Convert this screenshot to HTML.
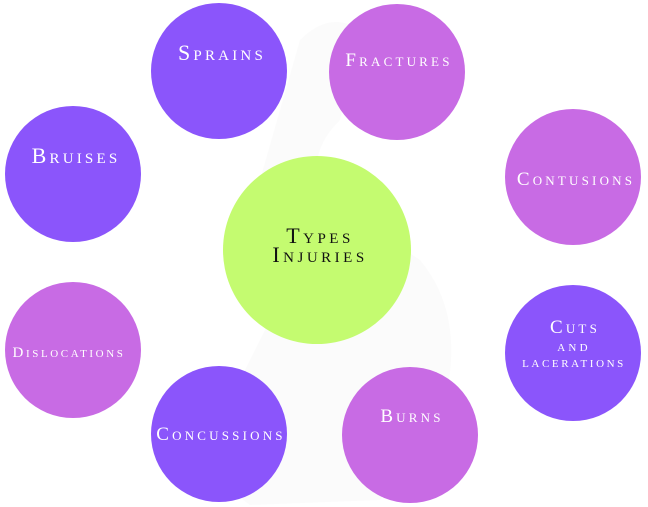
<!DOCTYPE html>
<html><head><style>
html,body{margin:0;padding:0;background:#fff;}
svg{display:block}
text{font-family:"Liberation Serif",serif;font-variant:small-caps;text-anchor:middle;fill:#fff;letter-spacing:3.2px;}
</style></head><body>
<svg width="648" height="507" viewBox="0 0 648 507">
<rect width="648" height="507" fill="#fff"/>
<path d="M300 40 Q330 10 360 30 L340 120 Q300 160 330 200 L420 260 Q470 320 440 420 L380 500 L250 505 Q200 470 230 400 L280 300 Q240 250 260 180 Z" fill="#fbfbfb"/>
<circle cx="219" cy="71" r="68" fill="#8b55fb"/>
<circle cx="397" cy="72" r="68" fill="#c86be4"/>
<circle cx="73" cy="174" r="68" fill="#8b55fb"/>
<circle cx="573" cy="177" r="68" fill="#c86be4"/>
<circle cx="317" cy="250" r="94" fill="#c4fb70"/>
<circle cx="73" cy="350" r="68" fill="#c86be4"/>
<circle cx="573" cy="353" r="68" fill="#8b55fb"/>
<circle cx="219" cy="434" r="68" fill="#8b55fb"/>
<circle cx="410" cy="435" r="68" fill="#c86be4"/>
<text x="222" y="60" font-size="22">Sprains</text>
<text x="399" y="66" font-size="19">Fractures</text>
<text x="76" y="163" font-size="22">Bruises</text>
<text x="576" y="185" font-size="19">Contusions</text>
<text x="320" y="243" font-size="22" style="fill:#111;letter-spacing:3.5px">Types</text>
<text x="320" y="262" font-size="22" style="fill:#111;letter-spacing:3.5px">Injuries</text>
<text x="69" y="357" font-size="15" style="letter-spacing:2.6px">Dislocations</text>
<text x="575" y="333" font-size="19">Cuts</text>
<text x="574" y="351" font-size="15">and</text>
<text x="574" y="367" font-size="16" style="letter-spacing:2.6px">lacerations</text>
<text x="221" y="440" font-size="19">Concussions</text>
<text x="412" y="422" font-size="19">Burns</text>
</svg>
</body></html>
